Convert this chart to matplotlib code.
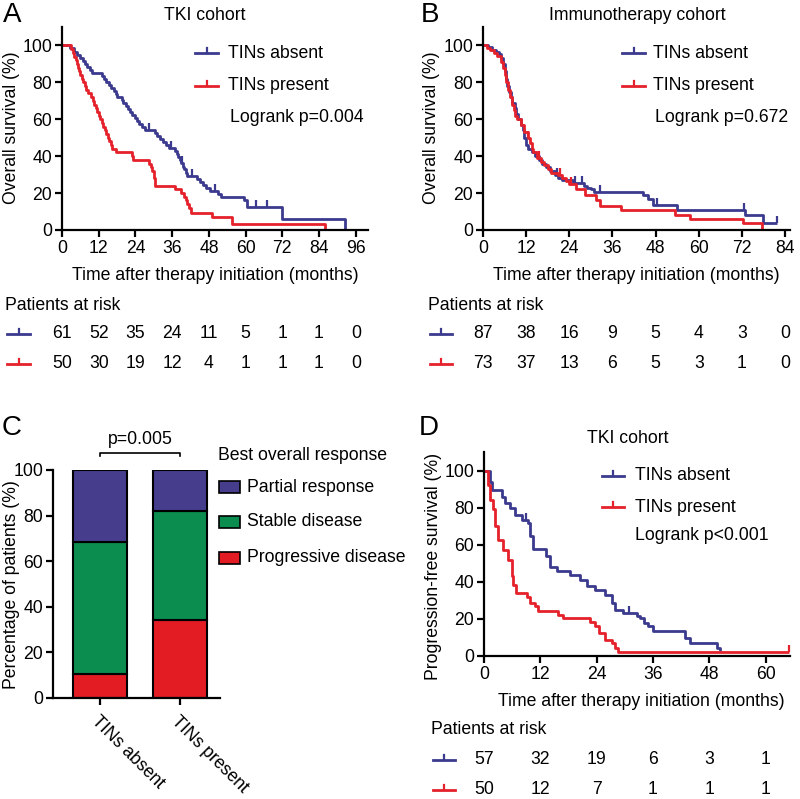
import matplotlib
matplotlib.use('Agg')
import matplotlib.pyplot as plt
from matplotlib import transforms
from matplotlib.lines import Line2D
from matplotlib.patches import Rectangle

plt.rcParams['font.family'] = ['Liberation Sans', 'DejaVu Sans']
FS = 12.7

BLUE = '#3b3a8e'
RED = '#e5212b'

# ---- data ----
# A: TKI cohort, overall survival
a_abs_t = [0, 2.5, 4, 5, 6, 6.8, 7.5, 8.3, 9, 9.8, 13, 13.8, 14.5, 15.3, 16, 17, 17.5, 18, 19.5, 20,
           20.8, 21.5, 22.2, 23, 23.8, 24.5, 25, 26, 27, 30.5, 31, 32, 33, 34, 35, 37, 37.5, 38, 38.5,
           39, 39.5, 40, 40.5, 41, 44, 45, 46, 47, 48.5, 51, 52, 59.5, 60.5, 72, 92.5]
a_abs_s = [100, 98.4, 96.7, 95, 93.4, 91.8, 90.2, 88.5, 86.9, 85.2, 83.6, 82, 80.3, 78.7, 77, 75.4, 73.8,
           72.1, 70.5, 68.9, 67.2, 65.6, 63.9, 62.3, 60.7, 59, 57.4, 55.7, 54.1, 52.5, 50.8, 49.2, 47.5,
           45.9, 44.3, 42.6, 41, 39.3, 37.7, 36.1, 34.4, 32.8, 31.1, 29.5, 27.9, 26.2, 24.6, 23, 21.3,
           19.7, 18, 16.4, 12.3, 6.2, 0]
a_abs_cens_t = [28.5, 35.5, 39.2, 42.5, 50, 63.5, 67]
a_pre_t = [0, 3, 3.5, 4, 4.5, 5, 5.3, 5.6, 6, 6.5, 7, 7.5, 8, 8.5, 9.5, 10, 10.5, 11, 11.5, 12, 12.5, 13,
           13.5, 14, 14.5, 15, 15.5, 16, 16.5, 17.5, 23, 23.3, 28.5, 29, 29.5, 30, 30.5, 37, 39, 40, 40.5,
           41, 41.5, 42, 49, 55.5, 86]
a_pre_s = [100, 98, 96, 94, 92, 90, 88, 86, 84, 82, 80, 78, 76, 74, 72, 70, 68, 66, 64, 62, 60, 58, 56,
           54, 52, 50, 48, 46, 44, 42, 40, 38, 36, 34, 32, 28, 24, 22, 20, 18, 16, 14, 12, 9, 7, 3.5, 0]
a_pre_cens_t = []

# B: immunotherapy cohort, overall survival
b_abs_t = [0, 1.5, 2.5, 3.5, 4.5, 5, 5.5, 6, 6.3, 6.8, 7.2, 7.7, 8.2, 8.8, 9.3, 9.8, 10.5, 11, 11.5, 12,
           12.5, 13.5, 14.5, 15.5, 16.5, 17.5, 18.5, 20, 21, 22, 25, 28, 29, 30, 31, 44.5, 46, 47.3, 54,
           73, 78, 81.7]
b_abs_s = [100, 98.9, 97.7, 96.6, 95.4, 93, 90, 86, 82, 78, 75, 72, 69, 66, 63, 60, 57, 54, 50, 46, 44,
           42, 40, 38, 36, 34, 32, 30, 28, 27, 25.5, 24, 23, 22, 20.5, 19, 17, 13.5, 10.8, 8, 4, 4]
b_abs_cens_t = [20.5, 25.5, 27.5, 32.5, 48.3, 72.5, 81.7]
b_pre_t = [0, 1, 2, 3, 4, 5, 5.5, 6, 6.5, 7, 7.5, 8, 8.5, 9, 9.5, 10.5, 11.5, 12.5, 13, 13.5, 14, 15, 16,
           17, 18, 19, 21, 22, 23, 24, 26, 28.5, 31.5, 32.5, 38.5, 53.5, 57.5, 72.4, 77.7]
b_pre_s = [100, 98.6, 97.3, 95.9, 94.5, 91, 88, 84, 80, 76, 72, 68, 65, 62, 60, 57, 53, 50, 47, 44, 42,
           39, 37, 35, 33, 31, 30, 28, 26.5, 25, 22, 19, 16, 13, 11, 8.2, 5.8, 4, 0]
b_pre_cens_t = [12.5, 15.5, 21.5, 24.5]

# D: TKI cohort, progression-free survival
d_abs_t = [0, 1.2, 1.8, 3.8, 4.5, 5.5, 6.6, 8, 9.4, 9.8, 10.5, 13.3, 14, 15.5, 18.3, 20.4, 21.9, 23.6,
           25.8, 27.2, 27.9, 29.7, 32.5, 33.2, 34, 35, 36.1, 42.8, 43.9, 49.6, 50.3]
d_abs_s = [100, 94, 89.5, 86, 82.5, 80, 76, 73.5, 71.6, 64.5, 57.5, 54, 48, 46, 43.8, 41, 37.5, 35.7, 33,
           28.4, 25, 23, 21.5, 20.4, 17.6, 16, 13.7, 9.6, 7.2, 4.2, 2.5]
d_abs_cens_t = [9, 31]
d_pre_t = [0, 0.8, 1.3, 2, 2.3, 3, 4.1, 5.2, 5.9, 6.2, 6.9, 9.1, 9.8, 10.9, 11.6, 15.8, 16.9, 22.6,
           23.6, 24.4, 25.8, 27.2, 27.9, 28.6, 65]
d_pre_s = [100, 92, 84, 79, 70, 62.7, 57.3, 52, 43, 38.5, 34, 32, 28.6, 26.8, 24, 22, 20.4, 18.5, 16,
           12.3, 8.7, 7, 4.3, 2, 2]
d_pre_cens_t = [65]

# risk tables
a_ticks = [0, 12, 24, 36, 48, 60, 72, 84, 96]
a_risk_abs = [61, 52, 35, 24, 11, 5, 1, 1, 0]
a_risk_pre = [50, 30, 19, 12, 4, 1, 1, 1, 0]
b_ticks = [0, 12, 24, 36, 48, 60, 72, 84]
b_risk_abs = [87, 38, 16, 9, 5, 4, 3, 0]
b_risk_pre = [73, 37, 13, 6, 5, 3, 1, 0]
d_ticks = [0, 12, 24, 36, 48, 60]
d_risk_abs = [57, 32, 19, 6, 3, 1]
d_risk_pre = [50, 12, 7, 1, 1, 1]

# C: best overall response
c_groups = ['TINs absent', 'TINs present']
c_pd = [10.5, 34.0]
c_sd = [57.8, 48.0]
c_pr = [31.7, 18.0]
c_labels = ['Partial response', 'Stable disease', 'Progressive disease']
c_colors = ['#463e8c', '#0b8d50', '#e31c24']

W, H = 800, 799
fig = plt.figure(figsize=(8, 7.99), dpi=100)


def fx(px):
    return px / W


def fy(py):
    return 1 - py / H


def add_ax(l, t, r, b):
    return fig.add_axes([fx(l), fy(b), (r - l) / W, (b - t) / H])


def style(ax):
    for s in ['top', 'right']:
        ax.spines[s].set_visible(False)
    for s in ['left', 'bottom']:
        ax.spines[s].set_linewidth(1.6)
    ax.tick_params(width=1.6, length=5, labelsize=FS, direction='out', pad=2)


UPTICK = [(0, 0), (0, 1)]


def km(ax, t, s, cens, color):
    ax.step(t, s, where='post', color=color, lw=2.0, solid_capstyle='butt', clip_on=False)
    # censor ticks sit on the curve level at that time
    for c in cens:
        lvl = s[0]
        for ti, si in zip(t, s):
            if ti <= c:
                lvl = si
        ax.plot([c], [lvl], marker=UPTICK, ms=10, mew=1.6, color=color, clip_on=False)


def sample(x0, x1, py, color):
    fig.add_artist(Line2D([fx(x0), fx(x1)], [fy(py), fy(py)], color=color, lw=2.0))
    xm = (x0 + x1) / 2
    fig.add_artist(Line2D([fx(xm), fx(xm)], [fy(py), fy(py - 5)], color=color, lw=1.6))


def risk(ax, ticks, r_abs, r_pre, x0, x1, y_head, y1, y2):
    fig.text(fx(x0 - 2), fy(y_head), 'Patients at risk', fontsize=FS, va='center', ha='left')
    tr = transforms.blended_transform_factory(ax.transData, fig.transFigure)
    sample(x0, x1, y1, BLUE)
    sample(x0, x1, y2, RED)
    for tk, a, p in zip(ticks, r_abs, r_pre):
        fig.text(tk, fy(y1), str(a), transform=tr, fontsize=FS, ha='center', va='center')
        fig.text(tk, fy(y2), str(p), transform=tr, fontsize=FS, ha='center', va='center')


def km_panel(box, xmax, ticks, letter, letter_xy, title, title_xy, ylabel, ylab_xy, xlab_xy,
             curves, leg_x, leg_y, logrank):
    ax = add_ax(*box)
    style(ax)
    for t, s, c, col in curves:
        km(ax, t, s, c, col)
    ax.set_xlim(0, xmax)
    ax.set_ylim(0, 110)
    ax.set_xticks(ticks)
    ax.set_yticks([0, 20, 40, 60, 80, 100])
    fig.text(fx(letter_xy[0]), fy(letter_xy[1]), letter, fontsize=20, ha='left', va='center')
    fig.text(fx(title_xy[0]), fy(title_xy[1]), title, fontsize=FS, ha='center', va='center')
    fig.text(fx(ylab_xy[0]), fy(ylab_xy[1]), ylabel, fontsize=FS, rotation=90, ha='center', va='center')
    fig.text(fx(xlab_xy[0]), fy(xlab_xy[1]), 'Time after therapy initiation (months)', fontsize=FS,
             ha='center', va='center')
    s0, s1, tx = leg_x
    sample(s0, s1, leg_y[0], BLUE)
    sample(s0, s1, leg_y[1], RED)
    fig.text(fx(tx), fy(leg_y[0]), 'TINs absent', fontsize=FS, va='center')
    fig.text(fx(tx), fy(leg_y[1]), 'TINs present', fontsize=FS, va='center')
    fig.text(fx(logrank[0]), fy(leg_y[2]), logrank[1], fontsize=FS, va='center')
    return ax


# ---- panel A ----
axA = km_panel((62, 27, 368, 230), 100, a_ticks, 'A', (3, 15), 'TKI cohort', (205, 15),
               'Overall survival (%)', (12, 128), (215, 276),
               [(a_abs_t, a_abs_s, a_abs_cens_t, BLUE), (a_pre_t, a_pre_s, a_pre_cens_t, RED)],
               (195, 218, 228), (53, 86, 118), (230, 'Logrank p=0.004'))
risk(axA, a_ticks, a_risk_abs, a_risk_pre, 7, 30, 305, 334, 364)

# ---- panel B ----
axB = km_panel((483, 27, 790, 230), 85.4, b_ticks, 'B', (421, 15), 'Immunotherapy cohort', (637, 15),
               'Overall survival (%)', (432, 128), (636, 276),
               [(b_abs_t, b_abs_s, b_abs_cens_t, BLUE), (b_pre_t, b_pre_s, b_pre_cens_t, RED)],
               (622, 645, 653), (53, 86, 118), (655, 'Logrank p=0.672'))
risk(axB, b_ticks, b_risk_abs, b_risk_pre, 430, 452, 305, 334, 364)

# ---- panel D ----
axD = km_panel((484, 452, 790, 656), 65.2, d_ticks, 'D', (419, 428), 'TKI cohort', (628, 438),
               'Progression-free survival (%)', (433, 566), (641, 702),
               [(d_abs_t, d_abs_s, d_abs_cens_t, BLUE), (d_pre_t, d_pre_s, d_pre_cens_t, RED)],
               (602, 624, 635), (476, 507, 536), (635, 'Logrank p<0.001'))
risk(axD, d_ticks, d_risk_abs, d_risk_pre, 433, 455, 730, 760, 790)

# ---- panel C ----
axC = add_ax(53, 470, 220, 698)
style(axC)
xs = [0, 1]
bw = 0.675
axC.bar(xs, c_pd, bw, color=c_colors[2], edgecolor='black', lw=1.5)
axC.bar(xs, c_sd, bw, bottom=c_pd, color=c_colors[1], edgecolor='black', lw=1.5)
axC.bar(xs, c_pr, bw, bottom=[a + b for a, b in zip(c_pd, c_sd)], color=c_colors[0],
        edgecolor='black', lw=1.5)
axC.set_xlim(-0.5875, 1.5)
axC.set_ylim(0, 100)
axC.set_yticks([0, 20, 40, 60, 80, 100])
axC.set_xticks(xs)
axC.set_xticklabels(c_groups, rotation=-45, ha='left', va='top', rotation_mode='anchor')
axC.tick_params(axis='x', pad=6)
axC.plot([0, 0, 1, 1], [106, 107.5, 107.5, 106], color='black', lw=1.2, clip_on=False)
axC.text(0.5, 113.5, 'p=0.005', fontsize=FS, ha='center', va='center')
fig.text(fx(2), fy(428), 'C', fontsize=20, ha='left', va='center')
fig.text(fx(12), fy(585), 'Percentage of patients (%)', fontsize=FS, rotation=90, ha='center', va='center')

fig.text(fx(218), fy(455), 'Best overall response', fontsize=FS, va='center')
for lab, col, py in zip(c_labels, c_colors, [487, 522, 558]):
    fig.add_artist(Rectangle((fx(219), fy(py + 6)), 21 / W, 12 / H, facecolor=col,
                             edgecolor='black', lw=1.2))
    fig.text(fx(247), fy(py), lab, fontsize=FS, va='center')

fig.savefig('out.png', dpi=100)
